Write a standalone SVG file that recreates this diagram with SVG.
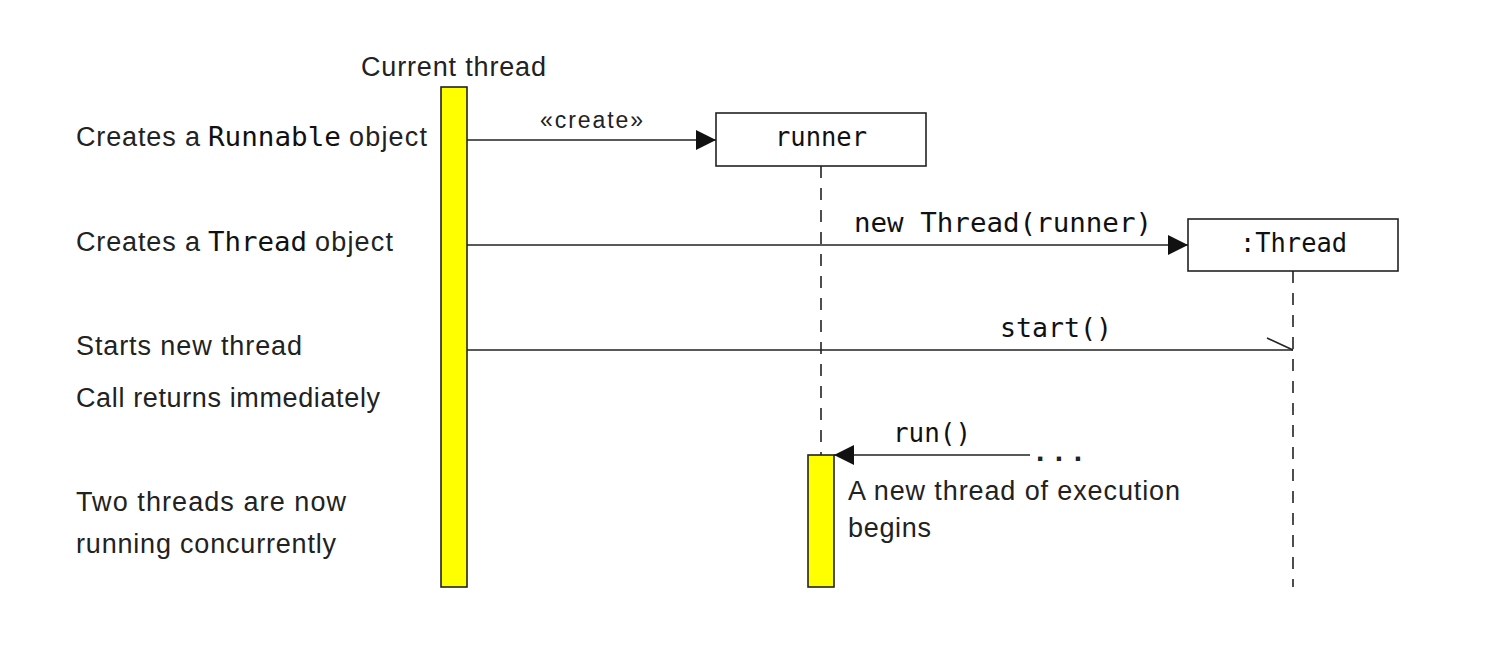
<svg xmlns="http://www.w3.org/2000/svg" width="1486" height="664" viewBox="0 0 1486 664">
<defs>
<style>
.t{font-family:"Liberation Sans",Arial,sans-serif;font-size:27px;fill:#222}
.m{font-family:"DejaVu Sans Mono","Liberation Mono",monospace;font-size:26px;fill:#111}
.ln{stroke:#222;stroke-width:1.6;fill:none}
.dash{stroke:#222;stroke-width:1.6;stroke-dasharray:12,10;fill:none}
.act{fill:#ffff00;stroke:#222;stroke-width:1.6}
.box{fill:#fff;stroke:#222;stroke-width:1.6}
</style>
<marker id="ah" viewBox="0 0 20 20" refX="20" refY="10" markerWidth="20" markerHeight="20" markerUnits="userSpaceOnUse" orient="auto">
<path d="M0,0 L20,10 L0,20 Z" fill="#111"/>
</marker>
</defs>
<rect width="1486" height="664" fill="#fff"/>
<g id="labels-left">
<text class="t" x="76" y="146" textLength="124" lengthAdjust="spacing">Creates a</text>
<text class="m" x="208" y="146" textLength="133" lengthAdjust="spacingAndGlyphs">Runnable</text>
<text class="t" x="349" y="146" textLength="78" lengthAdjust="spacing">object</text>
<text class="t" x="76" y="251" textLength="124" lengthAdjust="spacing">Creates a</text>
<text class="m" x="208" y="251" textLength="99" lengthAdjust="spacingAndGlyphs">Thread</text>
<text class="t" x="315" y="251" textLength="78" lengthAdjust="spacing">object</text>
<text class="t" x="76" y="355" textLength="226" lengthAdjust="spacing">Starts new thread</text>
<text class="t" x="76" y="407" textLength="304" lengthAdjust="spacing">Call returns immediately</text>
<text class="t" x="76" y="511" textLength="270" lengthAdjust="spacing">Two threads are now</text>
<text class="t" x="76" y="553" textLength="260" lengthAdjust="spacing">running concurrently</text>
</g>
<g id="current-thread">
<text class="t" x="361" y="76" textLength="185" lengthAdjust="spacing">Current thread</text>
<rect class="act" x="441" y="87" width="26" height="500"/>
</g>
<g id="runner">
<rect class="box" x="716" y="113" width="210" height="53"/>
<text class="m" x="775" y="146" textLength="92" lengthAdjust="spacingAndGlyphs">runner</text>
<line class="dash" x1="821" y1="166" x2="821" y2="455"/>
<rect class="act" x="808" y="455" width="26" height="132"/>
</g>
<g id="thread">
<rect class="box" x="1188" y="219" width="210" height="52"/>
<text class="m" x="1240" y="252" textLength="107" lengthAdjust="spacingAndGlyphs">:Thread</text>
<line class="dash" x1="1293" y1="271" x2="1293" y2="587"/>
</g>
<g id="connectors">
<line class="ln" x1="467" y1="140" x2="716" y2="140" marker-end="url(#ah)"/>
<text class="t" x="540" y="128" textLength="103" lengthAdjust="spacing" style="font-size:23px">«create»</text>
<line class="ln" x1="467" y1="245" x2="1188" y2="245" marker-end="url(#ah)"/>
<text class="m" x="854" y="232" textLength="298" lengthAdjust="spacingAndGlyphs">new Thread(runner)</text>
<line class="ln" x1="467" y1="350" x2="1293" y2="350"/>
<line class="ln" x1="1267" y1="338" x2="1293" y2="350"/>
<text class="m" x="1000" y="337" textLength="112" lengthAdjust="spacingAndGlyphs">start()</text>
<line class="ln" x1="1030" y1="455" x2="834" y2="455" marker-end="url(#ah)"/>
<text class="m" x="893" y="442" textLength="78" lengthAdjust="spacingAndGlyphs">run()</text>
<text class="t" x="1036" y="461" textLength="46" lengthAdjust="spacing" style="font-size:30px;font-weight:bold">...</text>
</g>
<g id="note">
<text class="t" x="848" y="500" textLength="332" lengthAdjust="spacing">A new thread of execution</text>
<text class="t" x="848" y="537" textLength="83" lengthAdjust="spacing">begins</text>
</g>
</svg>
